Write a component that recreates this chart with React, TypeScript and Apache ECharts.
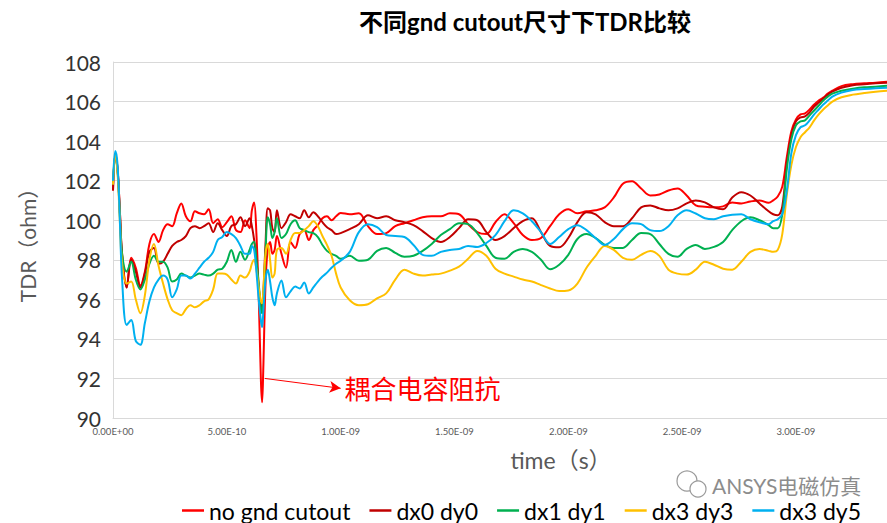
import React, { useEffect, useRef } from "react";
import * as echarts from "echarts";

// time axis in picoseconds
const timePs = [
  0, 10, 20, 30, 40,
  60, 80, 100, 120, 140, 160, 180, 200, 220, 240, 260, 280, 300, 320, 340, 360, 380, 400, 420, 440, 460, 480, 500, 520, 540, 560, 580, 600,
  610, 620, 630, 640, 650, 655, 660, 670, 680, 690, 700, 710, 720,
  740, 760, 780, 800, 820, 840, 860, 880, 900, 920, 940, 960, 980, 1000,
  1040, 1080, 1120, 1160, 1200, 1240, 1280, 1320, 1360, 1400, 1440, 1480, 1520, 1560, 1600, 1640, 1680, 1720, 1760, 1800, 1840, 1880, 1920, 1960, 2000, 2040, 2080, 2120, 2160, 2200, 2240, 2280, 2320, 2360, 2400, 2440, 2480, 2520, 2560, 2600, 2640, 2680, 2720, 2760, 2800, 2840, 2880,
  2900, 2920, 2940, 2960, 2980, 3000, 3020, 3040, 3060, 3080, 3100, 3120, 3140, 3160,
  3200, 3250, 3300, 3350, 3400,
];

const noGndCutout = [
  101.5, 103.3, 102.6, 100.5, 98.3,
  96.6, 98.1, 97.6, 96.7, 97.4, 98.8, 99.3, 98.9, 99.5, 99.8, 99.7, 100.35, 100.85, 100.2, 99.95, 100.45, 100.35, 100.3, 100.55, 99.85, 100.05, 99.65, 99.9, 100.2, 99.5, 99.4, 100.0, 99.6,
  100.5, 100.9, 99.3, 96.2, 91.8, 90.8, 92.4, 96.8, 98.6, 98.9, 98.3, 98.5, 99.2,
  98.3, 97.6, 98.9, 98.6, 99.3, 99.5, 99.0, 99.5, 99.75, 100.1, 100.2, 100.0, 100.2, 100.37,
  100.3, 100.35, 99.7, 99.3, 99.35, 99.7, 99.85, 100.0, 100.15, 100.2, 100.2, 100.35, 100.3, 99.8, 99.4, 99.3, 99.9, 100.3, 99.85, 99.25, 99.0, 99.1, 99.7, 100.3, 100.55, 100.35, 100.45, 100.5, 100.65, 101.15, 101.85, 101.97, 101.6, 101.25, 101.3, 101.5, 101.6, 101.25, 100.75, 100.68, 100.65, 100.7, 100.9, 100.85, 100.95, 101.0, 100.88,
  101.0, 101.2, 101.7, 103.2, 104.5, 105.1, 105.35, 105.4, 105.6, 105.85, 106.05, 106.2, 106.4, 106.55,
  106.78, 106.88, 106.92, 106.95, 107.0,
];

const dx0dy0 = [
  101.5, 103.3, 102.6, 100.5, 98.2,
  96.6, 98.0, 97.4, 96.6, 97.3, 98.4, 98.6, 97.8, 97.9, 98.3, 98.7, 98.9, 99.0, 99.2, 99.6, 99.7, 99.6, 99.7, 99.85, 99.4, 99.85, 99.5, 99.2, 99.7, 99.8, 100.15, 99.7, 100.1,
  99.7, 99.0, 98.0, 96.6, 95.7, 95.6, 96.2, 98.8, 100.6, 100.5, 99.6, 99.4, 100.5,
  99.6, 99.9, 100.3, 100.2, 100.1, 100.5, 100.15, 100.4, 100.2, 99.9, 99.65, 99.5, 99.3, 99.35,
  99.55, 99.8, 100.25, 100.1, 100.2, 100.0, 99.9, 99.75, 99.45, 99.1, 98.9, 99.15, 99.6, 100.05, 100.0, 99.4, 99.0, 99.2, 99.6, 99.95, 100.1, 99.4, 98.7, 98.63, 99.1, 99.9, 100.4, 100.3, 99.9, 99.7, 99.7, 100.1, 100.65, 100.75, 100.6, 100.5, 100.6, 100.85, 101.0, 100.9, 100.65, 100.55, 101.15, 101.42, 101.25, 100.85, 100.45,
  100.3, 100.25, 100.7, 102.9, 104.3, 105.0, 105.2, 105.25, 105.45, 105.75, 105.95, 106.15, 106.35, 106.5,
  106.7, 106.83, 106.88, 106.92, 106.95,
];

const dx1dy1 = [
  101.8, 103.3, 102.5, 100.3, 98.3,
  97.4, 97.9, 97.0, 96.5, 97.0, 97.8, 98.2, 97.9, 97.9, 97.6, 96.9, 97.0, 97.3, 97.2, 97.1, 97.2, 97.3, 97.25, 97.2, 97.3, 97.5, 97.55, 97.9, 98.5, 97.9, 98.4, 98.0, 98.5,
  98.8, 98.9, 98.0, 96.8, 95.5, 95.3, 96.0, 98.4, 100.15, 99.8, 99.1, 99.4, 100.1,
  99.1, 99.3, 99.8, 100.0, 99.6, 99.5, 99.4, 99.35, 99.15, 98.75, 98.45, 98.3, 98.2, 98.05,
  98.2, 97.95, 98.0, 98.45, 98.6, 98.35, 98.15, 98.2, 98.45, 98.8, 99.25, 99.55, 99.85, 99.8, 99.35, 98.7, 98.1, 98.05, 98.4, 98.55, 98.4, 98.0, 97.52, 97.75, 98.25, 99.05, 99.3, 99.1, 98.75, 98.6, 98.6, 99.0, 99.35, 99.3, 98.8, 98.3, 98.15, 98.55, 98.75, 98.55, 98.65, 98.9, 99.5, 99.95, 100.15, 100.0, 99.75,
  99.6, 99.6, 100.3, 102.6, 104.1, 104.8, 105.0, 105.05, 105.3, 105.55, 105.8, 106.05, 106.25, 106.4,
  106.55, 106.65, 106.72, 106.75, 106.8,
];

const dx3dy3 = [
  101.8, 103.3, 102.4, 100.0, 97.8,
  96.8, 96.9, 96.0, 95.3, 96.2, 98.0, 98.8, 97.7, 96.8, 96.0, 95.45, 95.3, 95.2, 95.5, 95.7, 95.6, 95.7, 95.9, 96.0, 96.5, 97.3, 97.3, 97.25, 97.0, 96.8, 97.2, 97.1, 97.4,
  97.8, 98.0, 97.5, 96.6, 95.9, 95.8, 96.4, 98.3, 98.8, 98.0, 97.1, 97.3, 98.5,
  98.6, 98.3, 99.0, 99.35, 99.35, 99.5, 99.7, 99.95, 99.7, 99.2, 98.75, 98.2, 97.3, 96.6,
  95.95, 95.7, 95.75, 96.05, 96.3, 97.0, 97.5, 97.3, 97.2, 97.25, 97.3, 97.45, 97.65, 98.05, 98.45, 98.2, 97.55, 97.3, 97.15, 97.0, 96.9, 96.72, 96.55, 96.42, 96.45, 96.8, 97.6, 98.2, 98.7, 98.5, 98.1, 98.0, 98.25, 98.45, 98.2, 97.5, 97.3, 97.25, 97.5, 97.9, 97.75, 97.55, 97.5, 97.9, 98.4, 98.55, 98.45,
  98.4, 98.5, 99.3, 101.3, 102.8, 103.7, 104.2, 104.45, 104.7, 105.05, 105.35, 105.6, 105.8, 106.0,
  106.22, 106.35, 106.43, 106.5, 106.55,
];

const dx3dy5 = [
  102.0, 103.5, 102.8, 100.0, 97.0,
  94.7, 94.95, 93.9, 93.7, 94.8, 95.9, 96.6, 97.0, 97.2, 97.0, 96.1, 96.5, 97.2, 97.2, 97.05, 97.3, 97.6, 97.9, 98.1, 98.4, 99.0, 99.15, 99.4, 99.3, 99.1, 98.7, 98.3, 98.3,
  98.7, 98.5, 97.4, 96.0, 94.9, 94.6, 95.3, 97.0, 97.5, 96.9, 96.1, 95.7, 96.3,
  96.95, 96.1, 96.4, 96.65, 96.55, 96.85, 96.3, 96.6, 96.9, 97.15, 97.35, 97.6, 97.8, 97.95,
  98.4, 99.4, 99.8, 99.65, 99.25, 99.2, 99.15, 98.75, 98.25, 98.2, 98.4, 98.5, 98.55, 98.7, 98.65, 98.85, 99.25, 99.95, 100.5, 100.35, 99.95, 99.4, 98.8, 99.15, 99.55, 99.75, 99.5, 99.1, 98.75, 99.05, 99.55, 99.85, 99.8, 99.5, 99.45, 99.7, 100.25, 100.5, 100.34, 100.1, 100.05, 100.2, 100.28, 100.3, 100.05, 99.9, 99.8,
  99.95, 100.05, 100.3, 101.5, 103.4, 104.3, 104.7, 104.8, 105.05, 105.35, 105.6, 105.85, 106.05, 106.25,
  106.45, 106.58, 106.63, 106.67, 106.7,
];

const seriesNames = ["no gnd cutout", "dx0 dy0", "dx1 dy1", "dx3 dy3", "dx3 dy5"];
const seriesValues = [noGndCutout, dx0dy0, dx1dy1, dx3dy3, dx3dy5];
const seriesColors = ["#FF0000", "#C00000", "#00B050", "#FFC000", "#00B0F0"];

// annotation: arrow from spike to label (data coordinates: ps, ohm)
const arrowStart = [667, 92.0];
const arrowEnd = [1000, 91.5];
const annotationText = "耦合电容阻抗";

const FONT = "Lato, 'Noto Sans CJK SC', sans-serif";

function sciLabel(ps: number): string {
  const v = ps * 1e-12;
  const s = v.toExponential(2);
  const [m, e] = s.split("e");
  const n = parseInt(e, 10);
  const sign = n < 0 ? "-" : "+";
  const abs = Math.abs(n);
  return m + "E" + sign + (abs < 10 ? "0" + abs : String(abs));
}

export default function App() {
  const ref = useRef<HTMLDivElement>(null);
  useEffect(() => {
    if (!ref.current) return;
    const chart = echarts.init(ref.current, null, { renderer: "svg" });
    const series: any[] = seriesNames.map((name, k) => ({
      name,
      type: "line",
      smooth: 0.35,
      symbol: "none",
      z: 2 + k,
      lineStyle: { width: 2, color: seriesColors[k] },
      itemStyle: { color: seriesColors[k] },
      data: timePs.map((t, i) => [t, seriesValues[k][i]]),
    }));
    series[0].markLine = {
      silent: true,
      animation: false,
      symbol: ["none", "arrow"],
      symbolSize: [9, 11],
      lineStyle: { color: "#FF0000", width: 1, type: "solid" },
      label: {
        show: true,
        position: "end",
        formatter: annotationText,
        color: "#FF0000",
        fontSize: 26,
        fontFamily: FONT,
        distance: 4,
      },
      data: [[{ coord: arrowStart }, { coord: arrowEnd }]],
    };
    chart.setOption({
      animation: false,
      backgroundColor: "#ffffff",
      grid: { left: 113, right: 0, top: 62, bottom: 105, containLabel: false },
      xAxis: {
        type: "value",
        min: 0,
        max: 3400,
        interval: 500,
        axisLine: { show: true, lineStyle: { color: "#d9d9d9", width: 1 } },
        axisTick: { show: false },
        splitLine: { show: false },
        axisLabel: {
          formatter: (v: number) => sciLabel(v),
          fontSize: 9.5,
          color: "#595959",
          margin: 9,
          showMaxLabel: false,
          fontFamily: FONT,
        },
      },
      yAxis: {
        type: "value",
        min: 90,
        max: 108,
        interval: 2,
        axisLine: { show: true, lineStyle: { color: "#d9d9d9", width: 1 } },
        axisTick: { show: false },
        splitLine: { show: true, lineStyle: { color: "#d9d9d9", width: 1 } },
        axisLabel: { fontSize: 21, color: "#333333", margin: 12, fontFamily: FONT },
      },
      legend: {
        data: seriesNames,
        icon: "rect",
        itemWidth: 22,
        itemHeight: 2.5,
        itemGap: 19,
        left: 177,
        top: 494,
        textStyle: { fontSize: 23, color: "#000000", fontFamily: FONT },
      },
      graphic: [
        {
          type: "text",
          x: 525,
          y: 21,
          style: {
            text: "不同gnd cutout尺寸下TDR比较",
            fontSize: 24,
            fontWeight: "bold",
            fontFamily: FONT,
            fill: "#000000",
            align: "center",
            verticalAlign: "middle",
          },
        },
        {
          type: "text",
          x: 27,
          y: 240,
          rotation: Math.PI / 2,
          style: {
            text: "TDR（ohm）",
            fontSize: 21,
            fontFamily: FONT,
            fill: "#595959",
            align: "center",
            verticalAlign: "middle",
          },
        },
        {
          type: "text",
          x: 561,
          y: 460,
          style: {
            text: "time（s）",
            fontSize: 23,
            fontFamily: FONT,
            fill: "#595959",
            align: "center",
            verticalAlign: "middle",
          },
        },
        {
          type: "circle",
          shape: { cx: 687, cy: 481, r: 10 },
          style: { fill: "#ffffff", stroke: "#9a9a9a", lineWidth: 1.2 },
        },
        {
          type: "circle",
          shape: { cx: 698, cy: 489, r: 8 },
          style: { fill: "#ffffff", stroke: "#9a9a9a", lineWidth: 1.2 },
        },
        {
          type: "text",
          x: 712,
          y: 485,
          style: {
            text: "ANSYS电磁仿真",
            fontSize: 21,
            fontFamily: FONT,
            fill: "#8c8c8c",
            align: "left",
            verticalAlign: "middle",
          },
        },
      ],
      series,
    });
    return () => chart.dispose();
  }, []);
  return (
    <div
      ref={ref}
      style={{ position: "fixed", left: 0, top: 0, width: 887, height: 523, background: "#fff" }}
    />
  );
}
